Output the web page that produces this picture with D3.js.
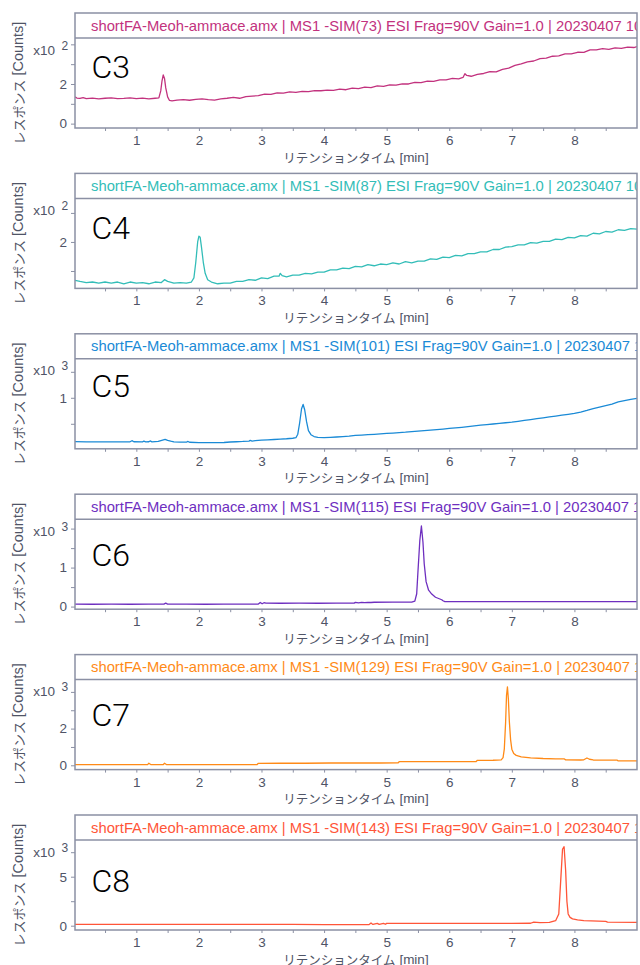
<!DOCTYPE html>
<html><head><meta charset="utf-8">
<script src="https://cdn.jsdelivr.net/npm/d3@7"></script>
<style>body{margin:0;background:#fff}</style>
</head><body>
<svg id="c" width="640" height="965"></svg>
<script>
// ---------------- data ----------------
const compounds = ["C3","C4","C5","C6","C7","C8"];
const simMass = [73,87,101,115,129,143];
const seriesColors = ["#c2327e","#33bdb8","#1a8ad6","#6e2fbf","#ff8a17","#ff5538"];
const xTickValues = [0.5,1,1.5,2,2.5,3,3.5,4,4.5,5,5.5,6,6.5,7,7.5,8,8.5];
const xTickLabels = ["","1","","2","","3","","4","","5","","6","","7","","8",""];
const exponents = [2,2,3,3,3,3];
const yDomains = [[-22,432],[120,275],[19,1750],[-67,2241],[-234,4670],[-439,8745]];
const yTickValues = [[0,100,200,300,400],[150,200,250],[500,1000,1500],[0,500,1000,1500,2000],[0,1000,2000,3000,4000],[0,2500,5000,7500]];
const yTickLabels = [["0","","2","",""],["","2",""],["","1",""],["0","","1","",""],["0","","2","",""],["0","","5",""]];

const c3 = [[0.02,135],[0.05,129],[0.1,127],[0.15,131],[0.2,126],[0.3,129],[0.4,125],[0.5,128],[0.6,130],[0.7,126],[0.8,127],[0.9,130],[1.0,126],[1.1,129],[1.2,125],[1.3,128],[1.36,130],[1.39,165],[1.41,215],[1.43,246],[1.45,228],[1.47,180],[1.5,135],[1.53,117],[1.57,115],[1.65,119],[1.75,121],[1.85,118],[1.95,122],[2.05,125],[2.15,121],[2.25,119],[2.35,125],[2.45,128],[2.55,132],[2.65,128],[2.75,136],[2.85,139],[2.95,141],[3.05,149],[3.15,148],[3.25,155],[3.35,154],[3.45,160],[3.55,158],[3.65,163],[3.75,161],[3.85,167],[3.95,166],[4.05,169],[4.15,168],[4.25,174],[4.35,171],[4.45,179],[4.55,177],[4.65,184],[4.75,182],[4.85,190],[4.95,188],[5.05,196],[5.15,194],[5.25,201],[5.35,200],[5.45,208],[5.55,207],[5.65,214],[5.75,213],[5.85,221],[5.95,221],[6.05,228],[6.15,226],[6.22,233],[6.25,252],[6.28,243],[6.35,239],[6.45,248],[6.55,253],[6.65,262],[6.75,261],[6.85,274],[6.95,280],[7.05,294],[7.15,302],[7.25,312],[7.35,316],[7.45,328],[7.55,330],[7.65,340],[7.75,342],[7.85,352],[7.95,352],[8.05,360],[8.15,359],[8.25,372],[8.35,372],[8.45,378],[8.55,375],[8.65,382],[8.75,380],[8.85,386],[8.95,384],[9.0,389]];
const c4 = [[0.02,134],[0.1,132],[0.2,130],[0.3,131],[0.4,129],[0.5,131],[0.6,129],[0.7,131],[0.8,128],[0.9,131],[1.0,129],[1.1,130],[1.2,128],[1.3,131],[1.4,130],[1.45,135],[1.5,132],[1.6,129],[1.7,130],[1.8,129],[1.88,131],[1.92,138],[1.95,165],[1.98,200],[2.0,210],[2.02,208],[2.04,192],[2.07,165],[2.1,146],[2.14,135],[2.2,131],[2.3,128],[2.4,129],[2.5,129],[2.6,132],[2.7,132],[2.8,135],[2.9,134],[3.0,138],[3.1,137],[3.2,141],[3.28,141],[3.3,146],[3.33,142],[3.4,140],[3.5,143],[3.6,143],[3.7,146],[3.8,145],[3.9,148],[4.0,148],[4.1,152],[4.2,152],[4.3,155],[4.4,154],[4.5,158],[4.6,157],[4.7,161],[4.8,159],[4.9,162],[5.0,161],[5.1,164],[5.2,162],[5.3,166],[5.4,164],[5.5,167],[5.6,167],[5.7,171],[5.8,170],[5.9,174],[6.0,173],[6.1,177],[6.2,176],[6.3,180],[6.4,180],[6.5,183],[6.6,183],[6.7,187],[6.8,187],[6.9,191],[7.0,192],[7.1,195],[7.2,195],[7.3,199],[7.4,198],[7.5,201],[7.6,201],[7.7,205],[7.8,204],[7.9,208],[8.0,207],[8.1,211],[8.2,210],[8.3,215],[8.4,214],[8.5,218],[8.6,217],[8.7,221],[8.8,220],[8.9,223],[9.0,222]];
const c5 = [[0.02,156],[0.2,154],[0.4,153],[0.6,154],[0.8,152],[0.9,154],[0.93,175],[0.96,155],[1.1,153],[1.12,168],[1.15,152],[1.2,155],[1.22,170],[1.25,153],[1.35,160],[1.42,185],[1.46,200],[1.5,180],[1.55,165],[1.6,152],[1.7,148],[1.8,146],[1.82,160],[1.85,145],[2.0,138],[2.2,137],[2.4,140],[2.5,150],[2.6,155],[2.7,160],[2.8,168],[2.82,180],[2.85,168],[2.9,175],[3.0,186],[3.1,192],[3.2,198],[3.3,205],[3.4,212],[3.5,222],[3.55,232],[3.58,300],[3.61,520],[3.64,790],[3.665,872],[3.69,770],[3.72,540],[3.75,370],[3.79,290],[3.84,255],[3.9,240],[4.0,232],[4.1,238],[4.2,246],[4.3,255],[4.4,262],[4.5,276],[4.6,282],[4.7,290],[4.8,298],[4.9,305],[5.0,314],[5.1,322],[5.2,330],[5.3,338],[5.4,350],[5.5,359],[5.6,368],[5.7,378],[5.8,388],[5.9,398],[6.0,410],[6.1,420],[6.2,432],[6.3,446],[6.4,460],[6.5,474],[6.6,485],[6.7,496],[6.8,508],[6.9,520],[7.0,532],[7.1,548],[7.2,565],[7.3,582],[7.4,598],[7.5,615],[7.6,632],[7.7,648],[7.8,665],[7.9,682],[8.0,699],[8.1,725],[8.2,756],[8.3,790],[8.4,820],[8.5,850],[8.6,880],[8.7,920],[8.8,945],[8.9,970],[9.0,990]];
const c6 = [[0.02,62],[0.3,60],[0.6,61],[0.9,60],[1.2,61],[1.44,62],[1.47,88],[1.5,63],[1.8,61],[2.1,60],[2.4,61],[2.7,62],[2.95,64],[2.98,105],[3.01,72],[3.04,100],[3.07,87],[3.3,86],[3.6,87],[3.9,86],[4.2,87],[4.48,88],[4.5,108],[4.55,95],[4.6,108],[4.65,100],[4.7,110],[4.75,105],[4.8,111],[5.1,112],[5.4,114],[5.45,140],[5.48,330],[5.5,900],[5.53,1700],[5.555,2068],[5.58,1650],[5.6,1100],[5.63,640],[5.67,420],[5.72,320],[5.78,240],[5.85,195],[5.88,175],[5.9,150],[5.93,128],[6.2,127],[6.6,128],[7.0,127],[7.4,128],[7.8,127],[8.2,128],[8.6,127],[9.0,128]];
const c7 = [[0.02,40],[0.4,38],[0.8,40],[1.18,39],[1.2,110],[1.23,42],[1.43,40],[1.45,115],[1.48,42],[1.8,40],[2.2,39],[2.6,40],[2.93,41],[2.95,110],[3.3,111],[3.7,112],[4.1,125],[4.5,127],[4.9,126],[5.18,128],[5.2,198],[5.6,200],[6.0,202],[6.43,205],[6.45,272],[6.7,275],[6.83,300],[6.86,420],[6.88,900],[6.9,2300],[6.915,3800],[6.93,4270],[6.945,3600],[6.96,2400],[6.98,1400],[7.0,880],[7.03,640],[7.07,540],[7.15,460],[7.3,405],[7.5,370],[7.7,355],[7.84,345],[7.86,295],[8.1,290],[8.15,300],[8.2,400],[8.24,330],[8.3,290],[8.68,285],[8.7,236],[9.0,236]];
const c8 = [[0.02,130],[0.5,128],[1.0,130],[1.5,128],[2.0,129],[2.5,128],[3.0,127],[3.5,126],[4.0,110],[4.5,112],[4.72,115],[4.75,272],[4.78,130],[4.85,240],[4.88,140],[4.95,245],[4.98,150],[5.0,238],[5.5,240],[6.0,242],[6.5,244],[7.0,246],[7.3,250],[7.35,374],[7.45,306],[7.6,340],[7.7,510],[7.75,1190],[7.78,4500],[7.81,7800],[7.835,8061],[7.86,5600],[7.88,2500],[7.9,1200],[7.93,850],[7.97,700],[8.05,600],[8.15,520],[8.5,450],[8.53,374],[9.0,340]];
const seriesData = [c3,c4,c5,c6,c7,c8];

// ---------------- layout ----------------
const frameL = 75, frameR = 637, top0 = 13, stepY = 160.4, headH = 25, plotH = 90;
const labelBaseline = [40,40.7,38,46.7,46,52.3];
const frameColor = "#8b90a4", textGray = "#4f5466";
const latin = "'Liberation Sans', Arial, sans-serif";
const jp = "'Noto Sans CJK JP', sans-serif";

const svg = d3.select("#c");
const x = d3.scaleLinear().domain([0.02, 9.0]).range([frameL, frameR]);

compounds.forEach((name, i) => {
  const fTop = top0 + i * stepY;
  const pTop = fTop + headH;
  const pBot = pTop + plotH;
  const color = seriesColors[i];
  const y = d3.scaleLinear().domain(yDomains[i]).range([pBot, pTop]);
  const g = svg.append("g");

  const clipId = "clip" + i, hclipId = "hclip" + i;
  const defs = g.append("defs");
  defs.append("clipPath").attr("id", clipId).append("rect")
    .attr("x", frameL).attr("y", pTop).attr("width", frameR - frameL).attr("height", plotH);
  defs.append("clipPath").attr("id", hclipId).append("rect")
    .attr("x", frameL).attr("y", fTop).attr("width", frameR - frameL).attr("height", headH);

  // header
  g.append("text").attr("clip-path", `url(#${hclipId})`)
    .attr("x", 91).attr("y", fTop + headH / 2).attr("dominant-baseline", "central")
    .attr("font-family", latin).attr("font-size", 14.8).attr("fill", color)
    .text(`shortFA-Meoh-ammace.amx | MS1 -SIM(${simMass[i]}) ESI Frag=90V Gain=1.0 | 20230407 10`);

  // trace
  const line = d3.line().x(d => x(d[0])).y(d => y(d[1]));
  g.append("path").datum(seriesData[i]).attr("clip-path", `url(#${clipId})`)
    .attr("d", line).attr("fill", "none").attr("stroke", color)
    .attr("stroke-width", 1.3).attr("stroke-linejoin", "round");

  // frame
  g.append("rect").attr("x", frameL).attr("y", fTop).attr("width", frameR - frameL)
    .attr("height", headH + plotH).attr("fill", "none").attr("stroke", frameColor).attr("stroke-width", 1.5);
  g.append("line").attr("x1", frameL).attr("x2", frameR).attr("y1", pTop).attr("y2", pTop)
    .attr("stroke", frameColor).attr("stroke-width", 1.5);

  // x axis
  const xa = g.append("g").attr("transform", `translate(0,${pBot})`)
    .call(d3.axisBottom(x).tickValues(xTickValues)
      .tickFormat((d, k) => xTickLabels[k]).tickSize(3).tickPadding(4.5));
  xa.select(".domain").remove();
  xa.selectAll("line").attr("stroke", frameColor);
  xa.selectAll("text").attr("font-family", latin).attr("font-size", 13.5).attr("fill", textGray);

  // y axis
  const labs = yTickLabels[i];
  const ya = g.append("g").attr("transform", `translate(${frameL},0)`)
    .call(d3.axisLeft(y).tickValues(yTickValues[i])
      .tickFormat((d, k) => labs[k]).tickSize(4).tickPadding(4));
  ya.select(".domain").remove();
  ya.selectAll("line").attr("stroke", frameColor);
  ya.selectAll("text").attr("font-family", latin).attr("font-size", 13.5).attr("fill", textGray);

  // exponent
  g.append("text").attr("x", 55).attr("y", pTop + 12).attr("text-anchor", "end")
    .attr("dominant-baseline", "central").attr("font-family", latin).attr("font-size", 13.5)
    .attr("fill", textGray).text("x10");
  g.append("text").attr("x", 61.5).attr("y", pTop + 7.5)
    .attr("dominant-baseline", "central").attr("font-family", latin).attr("font-size", 12)
    .attr("fill", textGray).text(exponents[i]);

  // compound label
  g.append("text").attr("x", 91.5).attr("y", pTop + labelBaseline[i])
    .attr("font-family", "Roboto, sans-serif").attr("font-weight", 300).attr("font-size", 32)
    .attr("fill", "#000").text(name);

  // x title
  const xt = g.append("text").attr("x", (frameL + frameR) / 2).attr("y", pBot + 28.5)
    .attr("text-anchor", "middle").attr("dominant-baseline", "central").attr("fill", textGray);
  xt.append("tspan").attr("font-family", jp).attr("font-size", 12.5).text("リテンションタイム");
  xt.append("tspan").attr("font-family", latin).attr("font-size", 13.5).text(" [min]");

  // y title
  const yt = g.append("text").attr("transform", `translate(18,${(pTop + pBot) / 2}) rotate(-90)`)
    .attr("text-anchor", "middle").attr("dominant-baseline", "central").attr("fill", textGray);
  yt.append("tspan").attr("font-family", jp).attr("font-size", 13).text("レスポンス");
  yt.append("tspan").attr("font-family", latin).attr("font-size", 14.5).text(" [Counts]");
});
</script>
</body></html>
